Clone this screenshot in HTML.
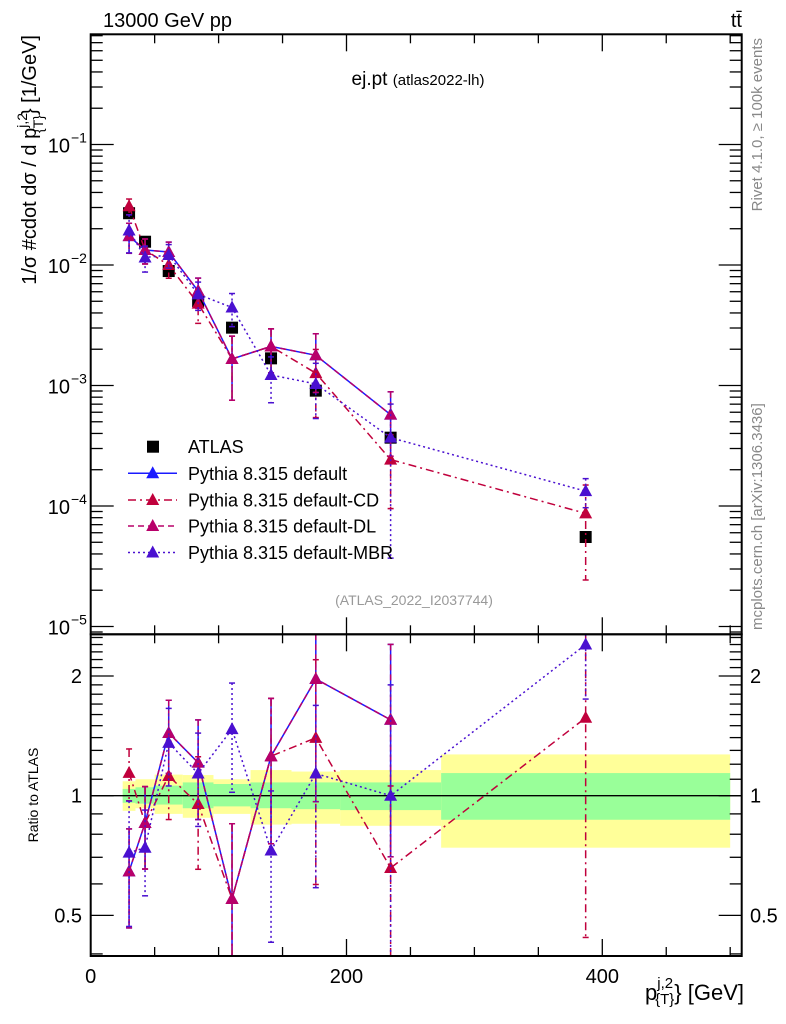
<!DOCTYPE html>
<html><head><meta charset="utf-8"><style>
body{margin:0;background:#fff;overflow:hidden;}
svg{display:block;font-family:"Liberation Sans",sans-serif;}
</style></head><body>
<svg id="chart" width="786" height="1024" viewBox="0 0 786 1024" xmlns="http://www.w3.org/2000/svg">
<rect width="786" height="1024" fill="#fff"/>
<g id="bands"></g>
<g id="marks"></g>
<g id="axes"></g>
<text x="103" y="27" font-size="20">13000 GeV pp</text>
<text x="742" y="27" font-size="20" text-anchor="end">tt̄</text>
<text x="418" y="85" font-size="19" text-anchor="middle">ej.pt <tspan font-size="15">(atlas2022-lh)</tspan></text>
<text x="414" y="605" font-size="14" fill="#999" text-anchor="middle">(ATLAS_2022_I2037744)</text>
<text transform="translate(762,38) rotate(-90)" font-size="15" fill="#888" text-anchor="end">Rivet 4.1.0, ≥ 100k events</text>
<text transform="translate(762,630) rotate(-90)" font-size="15" fill="#888">mcplots.cern.ch [arXiv:1306.3436]</text>
<text transform="translate(36,35) rotate(-90)" font-size="20" text-anchor="end">1/σ #cdot dσ / d p<tspan font-size="14" dy="-9">j,2</tspan><tspan font-size="14" dx="-20" dy="16">{T}</tspan><tspan dy="-7">} [1/GeV]</tspan></text>
<text transform="translate(38,795) rotate(-90)" font-size="14" text-anchor="middle">Ratio to ATLAS</text>
<text x="744" y="1000" font-size="22" text-anchor="end">p<tspan font-size="15" dy="-12">j,2</tspan><tspan font-size="15" dx="-18" dy="16">{T}</tspan><tspan dy="-4">} [GeV]</tspan></text>
<g id="legend"></g>
</svg>
<script>
// ---- data ----
const binEdges=[25,35,50,72,96,125,157,195,274,500];
const xCenters=[30,42.5,61,84,110.5,141,176,234.5,387];
const atlasVals=[0.0269,0.0156,0.00891,0.00502,0.00302,0.00168,0.000906,0.000369,0.0000553];
const yellowUp=[1.087,1.10,1.13,1.127,1.10,1.16,1.15,1.16,1.27];
const yellowDn=[0.916,0.93,0.90,0.88,0.90,0.846,0.85,0.84,0.74];
const greenUp=[1.04,1.05,1.06,1.08,1.07,1.08,1.08,1.08,1.14];
const greenDn=[0.96,0.955,0.95,0.93,0.94,0.93,0.925,0.92,0.87];
const ratioDefault=[0.645,0.854,1.438,1.211,0.550,1.257,1.966,1.552];
const errDefault=[0.18,0.2,0.3,0.34,0.3,0.5,1.0,0.85];
const ratioCD=[1.141,0.854,1.121,0.953,0.550,1.257,1.398,0.658,1.57];
const errCD=[0.17,0.2,0.25,0.3,0.3,0.5,0.8,0.4,1.13];
const ratioDL=[0.645,0.854,1.438,1.211,0.550,1.257,1.966,1.552];
const errDL=[0.18,0.2,0.3,0.34,0.3,0.5,1.0,0.85];
const ratioMBR=[0.719,0.740,1.358,1.137,1.47,0.728,1.137,1.0,2.40];
const errMBR=[0.25,0.18,0.3,0.3,0.45,0.3,0.55,0.9,0.65];
const xTicksMajor=[0,200,400];
const mainTickLabels=["10","10","10","10","10"];
const mainTickExps=[-1,-2,-3,-4,-5];
const ratioTickLabels=["2","1","0.5"];
const ratioTickVals=[2,1,0.5];
const legendLabels=["ATLAS","Pythia 8.315 default","Pythia 8.315 default-CD","Pythia 8.315 default-DL","Pythia 8.315 default-MBR"];

// ---- axes functions ----
const L=90.7,R=741.7,T=34.3,MB=634.3,RB=956;
const X=v=>L+(v-0)*(R-L)/509;
const Ym=v=>144.5-(Math.log10(v)+1)*120.5;
const Yr=v=>795.7-Math.log10(v)*397.6;
const cl=(y,a,b)=>Math.max(a,Math.min(b,y));
const NS="http://www.w3.org/2000/svg";
function mk(tag,attrs,parent){const e=document.createElementNS(NS,tag);for(const k in attrs)e.setAttribute(k,attrs[k]);parent.appendChild(e);return e;}
const bands=document.getElementById('bands'),marks=document.getElementById('marks'),axes=document.getElementById('axes'),legend=document.getElementById('legend');

for(let i=0;i<binEdges.length-1;i++){
  const x0=X(binEdges[i]),x1=X(binEdges[i+1]);
  const y=mk('rect',{x:x0,y:Yr(yellowUp[i]),width:x1-x0,height:Yr(yellowDn[i])-Yr(yellowUp[i]),fill:'#ffff99'},bands);
  
  
  const g=mk('rect',{x:x0,y:Yr(greenUp[i]),width:x1-x0,height:Yr(greenDn[i])-Yr(greenUp[i]),fill:'#99ff99'},bands);
  
  
}
mk('line',{x1:L,x2:R,y1:Yr(1),y2:Yr(1),stroke:'#000','stroke-width':1.3},bands);

function tri(x,y,c,parent,name){
  const p=mk('polygon',{points:`${x},${y-7} ${x-6.5},${y+5} ${x+6.5},${y+5}`,fill:c},parent);
  
  
}
const series=[
 {name:'default',r:ratioDefault,e:errDefault,c:'#1a1aff',dash:''},
 {name:'cd',r:ratioCD,e:errCD,c:'#c0003c',dash:'8,4,2,4'},
 {name:'dl',r:ratioDL,e:errDL,c:'#b8006a',dash:'6,4'},
 {name:'mbr',r:ratioMBR,e:errMBR,c:'#4a10d0',dash:'2,3'}
];
const defs=mk('defs',{},document.getElementById('chart'));
const cm=mk('clipPath',{id:'cm'},defs);mk('rect',{x:L,y:T,width:R-L,height:MB-T},cm);
const cr=mk('clipPath',{id:'cr'},defs);mk('rect',{x:L,y:MB,width:R-L,height:RB-MB},cr);
const gm=mk('g',{'clip-path':'url(#cm)'},marks);
const gr=mk('g',{'clip-path':'url(#cr)'},marks);

atlasVals.forEach((v,i)=>{
  const s=mk('rect',{x:X(xCenters[i])-6,y:Ym(v)-6,width:12,height:12,fill:'#000'},gm);
  
  
});
series.forEach(s=>{
  const n=s.r.length;
  let pm=[],pr=[];
  for(let i=0;i<n;i++){
    const x=X(xCenters[i]),mv=atlasVals[i]*s.r[i];
    pm.push(x+','+Ym(mv));pr.push(x+','+Yr(s.r[i]));
    const lo=Math.max(s.r[i]-s.e[i],0.01),hi=s.r[i]+s.e[i];
    [[gm,cl(Ym(atlasVals[i]*hi),T,MB),cl(Ym(atlasVals[i]*lo),T,MB)],[gr,cl(Yr(hi),MB,RB),cl(Yr(lo),MB,RB)]].forEach(([g,y1,y2])=>{
      const eb=mk('line',{x1:x,x2:x,y1:y1,y2:y2,stroke:s.c,'stroke-width':1.5,'stroke-dasharray':s.dash},g);
      
      
      mk('line',{x1:x-3,x2:x+3,y1:y1,y2:y1,stroke:s.c,'stroke-width':1.5},g);
      mk('line',{x1:x-3,x2:x+3,y1:y2,y2:y2,stroke:s.c,'stroke-width':1.5},g);
    });
  }
  const l1=mk('polyline',{points:pm.join(' '),fill:'none',stroke:s.c,'stroke-width':1.5,'stroke-dasharray':s.dash},gm);
  
  
  const l2=mk('polyline',{points:pr.join(' '),fill:'none',stroke:s.c,'stroke-width':1.5,'stroke-dasharray':s.dash},gr);
  
  
  for(let i=0;i<n;i++){
    tri(X(xCenters[i]),Ym(atlasVals[i]*s.r[i]),s.c,gm,'marker-'+s.name);
    tri(X(xCenters[i]),Yr(s.r[i]),s.c,gr,'ratio-marker-'+s.name);
  }
});

mk('rect',{x:L,y:T,width:R-L,height:MB-T,fill:'none',stroke:'#000','stroke-width':2},axes);
mk('rect',{x:L,y:MB,width:R-L,height:RB-MB,fill:'none',stroke:'#000','stroke-width':2},axes);
for(let v=0;v<=509;v+=50){
  const x=X(v),maj=v%200===0,len=maj?17:9;
  [[T,1],[MB,-1],[MB,1],[RB,-1]].forEach(([y,d])=>mk('line',{x1:x,x2:x,y1:y,y2:y+d*len,stroke:'#000','stroke-width':1.3},axes));
}
xTicksMajor.forEach(v=>{
  const t=mk('text',{x:X(v),y:983,'font-size':20,'text-anchor':'middle'},axes);t.textContent=v;
  
  
});
for(let d=-6;d<0;d++){for(let m=1;m<10;m++){
  const v=m*Math.pow(10,d),y=Ym(v);if(y<T||y>MB)continue;
  const len=m===1?23:12;
  mk('line',{x1:L,x2:L+len,y1:y,y2:y,stroke:'#000','stroke-width':1.3},axes);
  mk('line',{x1:R,x2:R-len,y1:y,y2:y,stroke:'#000','stroke-width':1.3},axes);
}}
mainTickExps.forEach((e,i)=>{
  const t=mk('text',{x:70,y:Ym(Math.pow(10,e))+8,'font-size':20,'text-anchor':'end'},axes);t.textContent=mainTickLabels[i];
  
  
  const s=mk('text',{x:71,y:Ym(Math.pow(10,e))-2,'font-size':14},axes);s.textContent='−'+(-e);
});
[0.4,0.5,0.6,0.7,0.8,0.9,1,1.1,1.2,1.3,1.4,1.5,1.6,1.7,1.8,1.9,2,2.1,2.2,2.3,2.4,2.5].forEach(v=>{
  const y=Yr(v);if(y<MB||y>RB)return;const len=(v===1||v===2||v===0.5)?23:12;
  mk('line',{x1:L,x2:L+len,y1:y,y2:y,stroke:'#000','stroke-width':1.3},axes);
  mk('line',{x1:R,x2:R-len,y1:y,y2:y,stroke:'#000','stroke-width':1.3},axes);
});
ratioTickVals.forEach((v,i)=>{
  const t=mk('text',{x:82,y:Yr(v)+7,'font-size':20,'text-anchor':'end'},axes);t.textContent=ratioTickLabels[i];
  
  
  const t2=mk('text',{x:750,y:Yr(v)+7,'font-size':20},axes);t2.textContent=ratioTickLabels[i];
  
  
});
const ly=[446.7,473.3,500,526,552.5];
legendLabels.forEach((lab,i)=>{
  const y=ly[i];
  if(i===0){mk('rect',{x:147,y:y-6,width:12,height:12,fill:'#000'},legend);}
  else{const s=series[i-1];
    mk('line',{x1:128,x2:177,y1:y,y2:y,stroke:s.c,'stroke-width':1.5,'stroke-dasharray':s.dash},legend);
    tri(152.7,y,s.c,legend,'legend-marker-'+s.name);}
  const t=mk('text',{x:188,y:y+6.5,'font-size':18},legend);t.textContent=lab;
  
  
});
</script>
</body></html>
